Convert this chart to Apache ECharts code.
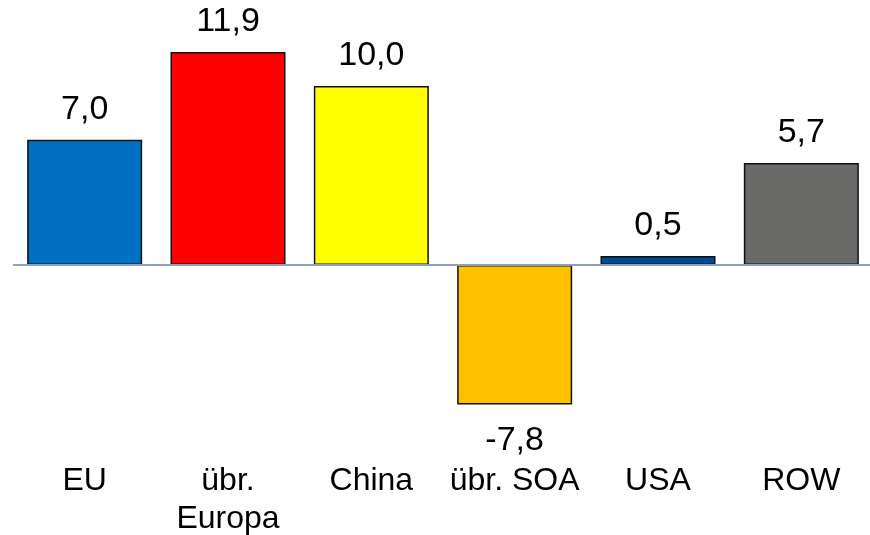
<!DOCTYPE html>
<html>
<head>
<meta charset="utf-8">
<script src="https://cdn.jsdelivr.net/npm/echarts@6/dist/echarts.min.js"></script>
<style>
html,body{margin:0;padding:0;background:#fff;}
#chart{width:870px;height:535px;}
</style>
</head>
<body>
<div id="chart"></div>
<script>
const categories = ['EU', 'übr.\nEuropa', 'China', 'übr. SOA', 'USA', 'ROW'];
const values = [7.0, 11.9, 10.0, -7.8, 0.5, 5.7];
const barColors = ['#0070C0', '#FF0000', '#FFFF00', '#FFC000', '#004A8F', '#6A6A68'];

const chart = echarts.init(document.getElementById('chart'), null, {renderer: 'canvas'});
const fmt = v => v.toFixed(1).replace('.', ',');

chart.setOption({
  animation: false,
  backgroundColor: '#ffffff',
  grid: {left: 13, width: 860, top: 14.4, height: 429.6, containLabel: false, outerBoundsMode: 'none'},
  xAxis: {
    type: 'category',
    data: categories,
    position: 'bottom',
    axisLine: {show: false, onZero: false},
    axisTick: {show: false},
    axisLabel: {
      interval: 0,
      margin: 18,
      color: '#000',
      fontFamily: 'Liberation Sans, Arial, sans-serif',
      fontSize: 32,
      lineHeight: 38
    }
  },
  yAxis: {
    type: 'value',
    min: -10,
    max: 14,
    show: false,
    splitLine: {show: false}
  },
  series: [{
    type: 'bar',
    barWidth: 115,
    data: values.map((v, i) => ({
      value: v,
      itemStyle: {color: barColors[i]},
      label: v < 0 ? {position: 'bottom', distance: 19} : {position: 'top', distance: 13}
    })),
    itemStyle: {borderColor: '#111', borderWidth: 1.5},
    label: {
      show: true,
      color: '#000',
      fontFamily: 'Liberation Sans, Arial, sans-serif',
      fontSize: 34,
      formatter: p => fmt(p.value)
    },
    markLine: {
      silent: true,
      symbol: 'none',
      label: {show: false},
      lineStyle: {color: '#8FA0BE', width: 2, type: 'solid'},
      data: [{yAxis: 0}]
    }
  }]
});
</script>
</body>
</html>
